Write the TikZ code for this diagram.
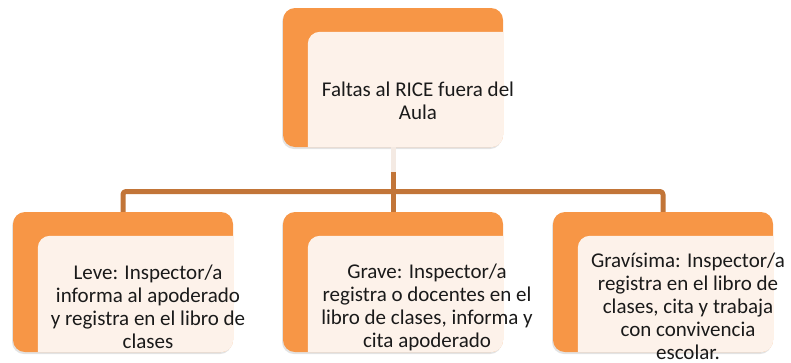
\documentclass[tikz,border=0pt]{standalone}
\usepackage{fontspec}
\setmainfont{Carlito}
\usetikzlibrary{shadows,calc}
\definecolor{boxorange}{HTML}{F79646}
\definecolor{boxcream}{HTML}{FDF2EA}
\definecolor{connbrown}{HTML}{C27538}
\definecolor{connfade}{HTML}{F4EAE3}
\definecolor{txt}{HTML}{1A1A1A}
\begin{document}
\begin{tikzpicture}[x=1pt,y=-1pt,
  backbox/.style={fill=boxorange, draw=none, rounded corners=12pt, minimum width=220pt, inner sep=0pt,
    drop shadow={shadow xshift=-1pt, shadow yshift=-2pt, opacity=0.22}},
  label/.style={align=center, text=txt, font=\fontsize{21}{23}\selectfont, inner sep=0pt},
  conn/.style={draw=connbrown, line width=5pt, line join=round}
]
\useasboundingbox (0,0) rectangle (791,362);

% back boxes
\node[backbox, minimum height=139pt] (topbox) at (393,77.5) {};
\node[backbox, minimum height=140pt] (leftbox) at (123,282) {};
\node[backbox, minimum height=140pt] (midbox) at (393,282) {};
\node[backbox, minimum height=140pt] (rightbox) at (663,282) {};

% cream front panels, clipped to the back box
\foreach \b in {topbox,leftbox,midbox,rightbox}{
  \begin{scope}
    \clip[rounded corners=12pt] (\b.north west) rectangle (\b.south east);
    \fill[boxcream, rounded corners=12pt]
      ([xshift=25pt,yshift=-24pt]\b.north west) rectangle ([xshift=25pt,yshift=-24pt]\b.south east);
  \end{scope}
}

% connectors
\coordinate (barmid) at (393,191.5);
\draw[conn] (topbox.south) -- (barmid);
\draw[conn, rounded corners=3pt] (leftbox.north) |- (barmid) -| (rightbox.north);
\draw[conn] (barmid) -- (midbox.north);
\fill[connfade] ([xshift=-2.5pt]topbox.south) rectangle ([xshift=2.5pt,yshift=-25pt]topbox.south);

% texts
\node[label] (ttop) at (418,101) {Faltas al RICE fuera del\\Aula};
\node[label] (tleve) at (148,307) {Leve: Inspector/a\\informa al apoderado\\y registra en el libro de\\clases};
\node[label] (tgrave) at (427,307) {Grave: Inspector/a\\registra o docentes en el\\libro de clases, informa y\\cita apoderado};
\node[label] (tgrav) at (688,306) {Gravísima: Inspector/a\\registra en el libro de\\clases, cita y trabaja\\con convivencia\\escolar.};
\end{tikzpicture}
\end{document}
